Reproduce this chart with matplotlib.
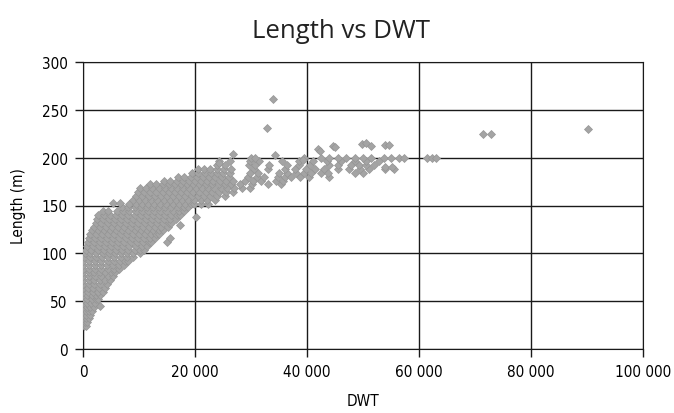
import matplotlib
matplotlib.use("Agg")
import matplotlib.pyplot as plt
from matplotlib.ticker import FuncFormatter

# Dense part of the cloud, read row by row: length (m) -> DWT values (thousand t)
row_length = [24, 28, 32, 36, 40, 44, 48, 52, 56, 60, 64, 68, 72, 76, 80, 84, 88,
              92, 96, 100, 104, 108, 112, 116, 120, 124, 128, 132, 136, 140, 144,
              148, 152, 156, 160, 164, 168, 172, 176, 180, 184, 188, 192, 196, 200]
row_dwt = [
    [0.1, 0.5],
    [0.0, 0.4, 0.8],
    [0.0, 0.5, 1.0],
    [0.0, 0.6, 1.3],
    [0.0, 0.6, 1.1, 1.6],
    [0.0, 0.7, 1.3, 1.9],
    [0.0, 0.7, 1.4, 2.2],
    [0.0, 0.8, 1.6, 2.4, 2.7],
    [0.0, 0.8, 1.6, 2.4, 3.1],
    [0.0, 0.9, 1.7, 2.6, 3.5],
    [0.0, 0.9, 1.8, 2.8, 3.9],
    [0.0, 1.0, 2.0, 3.1, 4.3],
    [0.0, 1.0, 2.0, 3.0, 4.0, 4.8],
    [0.0, 1.1, 2.2, 3.3, 4.4, 5.4],
    [0.0, 1.0, 2.0, 3.0, 4.0, 5.0, 5.8],
    [0.0, 1.1, 2.2, 3.3, 4.4, 5.5, 6.5],
    [0.0, 1.0, 2.1, 3.2, 4.3, 5.4, 6.4, 7.3],
    [0.0, 1.1, 2.2, 3.3, 4.4, 5.5, 6.6, 7.5, 8.1],
    [0.1, 1.2, 2.3, 3.4, 4.5, 5.6, 6.7, 7.8, 9.0],
    [0.3, 1.3, 2.4, 3.5, 4.6, 5.7, 6.8, 7.9, 9.0, 10.2],
    [0.5, 1.5, 2.6, 3.7, 4.8, 5.9, 7.0, 8.1, 9.2, 10.2, 10.9],
    [0.7, 1.7, 2.8, 3.9, 5.0, 6.1, 7.2, 8.3, 9.4, 10.5, 11.5],
    [0.9, 1.9, 3.0, 4.1, 5.2, 6.3, 7.4, 8.5, 9.6, 10.7, 11.7, 12.2],
    [1.1, 2.1, 3.2, 4.3, 5.4, 6.5, 7.6, 8.7, 9.8, 10.9, 12.0, 12.8],
    [1.3, 2.3, 3.4, 4.5, 5.6, 6.7, 7.8, 8.9, 10.0, 11.1, 12.2, 13.1, 13.6],
    [1.6, 2.6, 3.7, 4.8, 5.9, 7.0, 8.1, 9.2, 10.3, 11.4, 12.5, 13.5, 14.3],
    [2.0, 3.0, 4.1, 5.2, 6.3, 7.4, 8.5, 9.6, 10.7, 11.8, 12.9, 14.0, 15.1],
    [2.3, 3.3, 4.4, 5.5, 6.6, 7.7, 8.8, 9.9, 11.0, 12.1, 13.2, 14.3, 15.3, 15.8],
    [2.5, 3.5, 4.6, 5.7, 6.8, 7.9, 9.0, 10.1, 11.2, 12.3, 13.4, 14.5, 15.6, 16.6],
    [2.7, 3.7, 4.8, 5.9, 7.0, 8.1, 9.2, 10.3, 11.4, 12.5, 13.6, 14.7, 15.8, 16.8, 17.3],
    [3.5, 4.5, 6.0, 7.2, 8.3, 9.4, 10.5, 11.6, 12.7, 13.8, 14.9, 16.0, 17.1, 18.0],
    [7.0, 8.1, 9.2, 10.3, 11.4, 12.5, 13.6, 14.7, 15.8, 16.9, 18.0, 18.8],
    [8.3, 9.4, 10.5, 11.6, 12.7, 13.8, 14.9, 16.0, 17.1, 18.2, 19.3, 19.8, 21.0, 22.4],
    [8.9, 10.0, 11.1, 12.2, 13.3, 14.4, 15.5, 16.6, 17.7, 18.8, 19.9, 21.0, 22.2, 23.5],
    [9.5, 10.6, 11.7, 12.8, 13.9, 15.0, 16.1, 17.2, 18.3, 19.4, 20.5, 21.6, 22.7,
     24.0, 25.3],
    [9.8, 10.9, 12.0, 13.1, 14.2, 15.3, 16.4, 17.5, 18.6, 19.7, 20.8, 21.9, 23.0,
     24.2, 25.5, 26.8],
    [10.2, 11.3, 12.4, 13.5, 14.6, 15.7, 16.8, 17.9, 19.0, 20.1, 21.2, 22.3, 23.4,
     24.6, 25.8, 27.0, 28.4, 29.8],
    [12.0, 13.1, 14.2, 15.3, 16.4, 17.5, 18.6, 19.7, 20.8, 21.9, 23.0, 24.2, 25.4,
     26.5, 28.0, 30.2, 33.0, 35.3],
    [14.5, 15.6, 16.7, 17.8, 18.9, 20.0, 21.1, 22.2, 23.3, 24.4, 25.6, 26.8, 29.0,
     30.4, 31.8, 34.5, 35.8],
    [17.0, 18.1, 19.2, 20.3, 21.4, 22.5, 23.6, 24.8, 26.0, 29.5, 31.0, 32.4, 34.8,
     36.0, 37.2, 38.8, 40.3, 44.0],
    [19.5, 20.6, 21.7, 22.8, 23.9, 25.0, 26.2, 29.8, 31.2, 35.0, 36.5, 38.0, 39.5,
     40.8, 42.5, 43.8, 48.5, 50.0],
    [20.5, 21.6, 22.7, 24.0, 25.2, 26.4, 30.5, 33.0, 36.0, 37.8, 39.8, 41.5, 43.0,
     45.5, 47.5, 49.5, 51.0, 54.0, 55.5],
    [24.0, 25.3, 29.6, 30.8, 33.2, 36.5, 38.5, 40.5, 44.0, 45.5, 47.8, 49.2, 50.5, 52.0],
    [24.3, 26.2, 29.9, 31.5, 35.5, 38.5, 41.0, 43.5, 46.0, 48.5, 50.5, 52.8],
    [30.0, 30.8, 39.4, 42.5, 44.0, 45.5, 47.0, 48.5, 50.0, 51.5, 53.8, 55.0, 56.5,
     57.3, 61.4, 62.4, 63.0],
]

# Isolated ships (thousand t, m)
single_dwt = [3.0, 5.3, 6.6, 15.0, 15.6, 17.3, 20.1, 26.7, 32.9, 33.9, 34.3, 41.9,
              42.3, 44.7, 45.0, 49.8, 50.5, 51.4, 54.0, 54.6, 54.0, 55.2, 71.4, 72.9,
              90.1, 24.3, 39.3]
single_length = [45, 153, 153, 112, 116, 130, 138, 204, 231, 261, 203, 209,
                 207, 212, 211, 214, 215, 212, 213, 213, 190, 190, 225, 225,
                 230, 194, 198]

dwt = []
length = []
for L, vals in zip(row_length, row_dwt):
    for v in vals:
        dwt.append(v * 1000)
        length.append(L)
dwt += [v * 1000 for v in single_dwt]
length += single_length

fig = plt.figure(figsize=(6.74, 4.14), dpi=100)
ax = fig.add_axes([83 / 674, 64 / 414, 560 / 674, 287 / 414])

ax.plot(dwt, length, linestyle="none", marker="D", markersize=3.8,
        markerfacecolor="#a4a4a4", markeredgecolor="#959595",
        markeredgewidth=0.5, zorder=3)

ax.set_xlim(0, 100000)
ax.set_ylim(0, 300)
ax.set_xticks(range(0, 100001, 20000))
ax.set_yticks(range(0, 301, 50))
ax.xaxis.set_major_formatter(FuncFormatter(lambda v, p: f"{int(v):,}".replace(",", " ")))
ax.grid(True, color="#1a1a1a", linewidth=1.0, zorder=1)
for s in ax.spines.values():
    s.set_color("#1a1a1a")
ax.tick_params(direction="out", length=6, width=1.0, color="#1a1a1a",
               labelsize=11, pad=5)

for lab in ax.get_xticklabels() + ax.get_yticklabels():
    lab.set_fontstretch("condensed")
ax.set_xlabel("DWT", fontsize=11, labelpad=10, fontstretch="condensed")
ax.set_ylabel("Length (m)", fontsize=11, labelpad=11, fontstretch="condensed")

fig.text(341 / 674, 1 - 31 / 414, "Length vs DWT", ha="center", va="center",
         fontsize=18.5, family="Open Sans", color="#222222")

fig.savefig("out.png", dpi=100)
